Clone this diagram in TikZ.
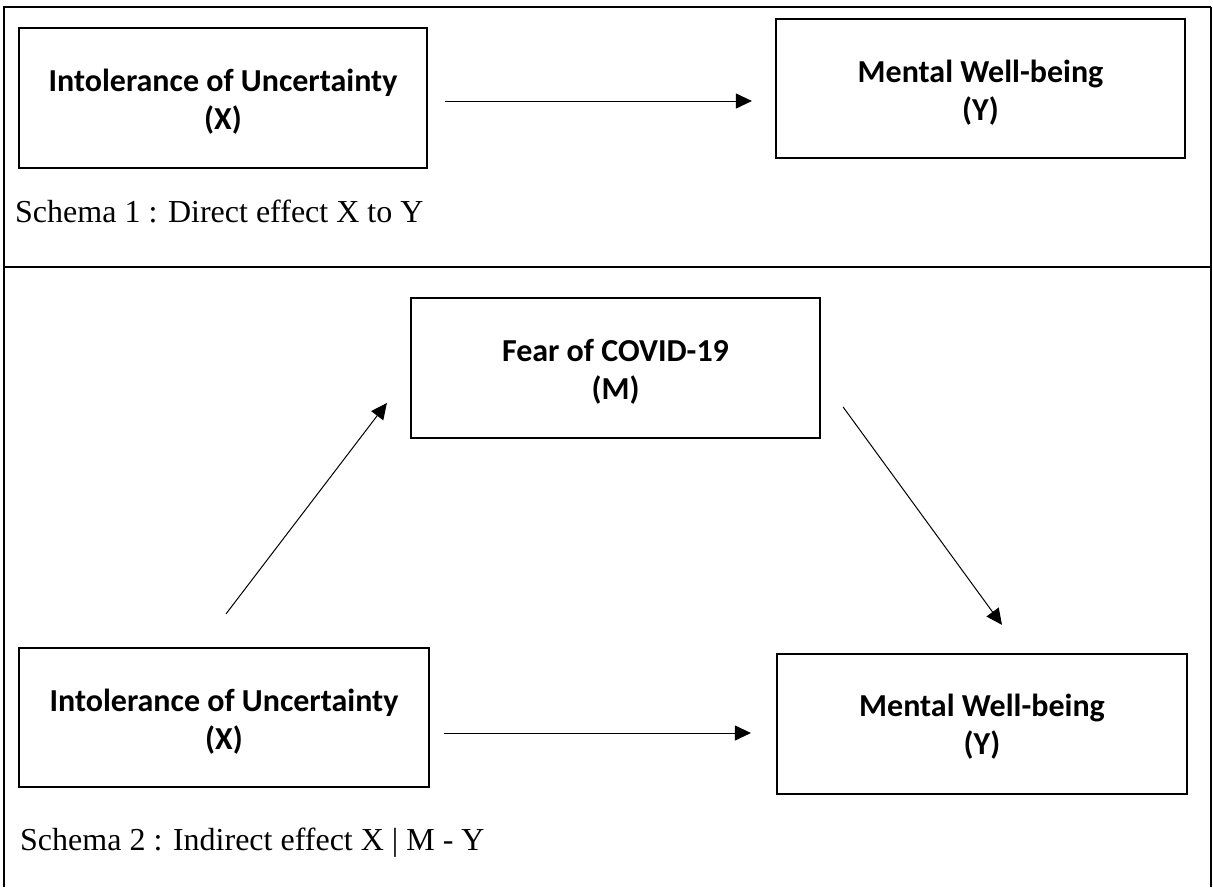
\documentclass[tikz,border=0pt]{standalone}
\usepackage{fontspec}
\setmainfont{Liberation Serif}
\newfontfamily\boxfont{Carlito}
\usetikzlibrary{arrows.meta}
\begin{document}
\begin{tikzpicture}[x=1pt,y=-1pt,
  framestyle/.style={line width=2pt},
  varbox/.style={draw, line width=2.2pt, minimum width=409pt, minimum height=140pt, inner sep=0pt},
  boxtext/.style={font=\boxfont\bfseries\fontsize{32}{38}\selectfont, align=center, inner sep=0pt},
  arr/.style={line width=1pt, -{Triangle[length=16pt,width=15pt]}},
  capstyle/.style={font=\fontsize{32}{38}\selectfont, anchor=base west, inner sep=0pt}]
\useasboundingbox (0,0) rectangle (1213,887);
% frame
\draw[framestyle] (4,887) -- (4,7) -- (1211,7);
\draw[line width=1.2pt] (1211,7) -- (1211,887);
\draw[framestyle] (4,267) -- (1211,267);
% schema 1
\node[varbox, minimum width=408pt] (X1) at (223,98) {};
\node[boxtext] (X1t) at ([shift={(0,4)}]X1.center) {Intolerance of Uncertainty\\(X)};
\node[varbox, minimum height=139pt] (Y1) at (980.5,88.5) {};
\node[boxtext] (Y1t) at ([shift={(0,4)}]Y1.center) {Mental Well-being\\(Y)};
\draw[arr] ([shift={(17,3)}]X1.east) -- ([shift={(-23,12.5)}]Y1.west);
\node[capstyle] (c1) at (15,222) {Schema 1 : Direct effect X to Y};
% schema 2
\node[varbox] (M) at (615.5,368) {};
\node[boxtext] (Mt) at ([shift={(0,4)}]M.center) {Fear of COVID-19\\(M)};
\node[varbox, minimum width=410pt, minimum height=139pt] (X2) at (224,717.5) {};
\node[boxtext] (X2t) at ([shift={(0,4)}]X2.center) {Intolerance of Uncertainty\\(X)};
\node[varbox, minimum width=410pt] (Y2) at (982,724) {};
\node[boxtext] (Y2t) at ([shift={(0,3)}]Y2.center) {Mental Well-being\\(Y)};
\draw[arr] ([shift={(2,-33)}]X2.north) -- ([shift={(-23,35)}]M.west);
\draw[arr] ([shift={(22,39)}]M.east) -- ([shift={(20,-28)}]Y2.north);
\draw[arr] ([shift={(14,15.5)}]X2.east) -- ([shift={(-25,9)}]Y2.west);
\node[capstyle] (c2) at (20,850) {Schema 2 : Indirect effect X | M - Y};
\end{tikzpicture}
\end{document}
